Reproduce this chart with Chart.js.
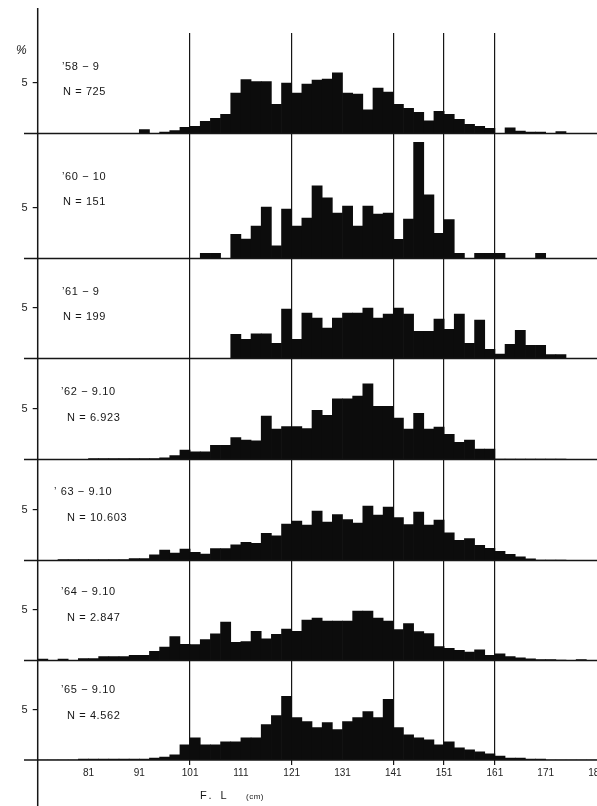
<!DOCTYPE html>
<html>
<head>
<meta charset="utf-8">
<title>F.L frequency by season</title>
<script src="https://cdn.jsdelivr.net/npm/chart.js@4.4.1/dist/chart.umd.min.js"></script>
<style>
  html, body { margin: 0; padding: 0; background: #fff; overflow: hidden; }
  #wrap { position: relative; width: 597px; height: 806px; }
</style>
</head>
<body>
<div id="wrap"><canvas id="fl-chart"></canvas></div>
<script>
/* ─── Data ─────────────────────────────────────── */
// 2 cm fork-length classes, centre values (class 71-73 -> 72 ...)
const binCentres = [72, 74, 76, 78, 80, 82, 84, 86, 88, 90, 92, 94, 96, 98, 100, 102, 104, 106, 108, 110,
  112, 114, 116, 118, 120, 122, 124, 126, 128, 130, 132, 134, 136, 138, 140, 142, 144, 146, 148, 150,
  152, 154, 156, 158, 160, 162, 164, 166, 168, 170, 172, 174, 176, 178, 180];
const xTickValues = [81, 91, 101, 111, 121, 131, 141, 151, 161, 171, 181];
const refLines    = [101, 121, 141, 151, 161];

const seasons     = ['’58 − 9', '’60 − 10', '’61 − 9', '’62 − 9.10', '’ 63 − 9.10', '’64 − 9.10', '’65 − 9.10'];
const sampleSizes = ['N = 725', 'N = 151', 'N = 199', 'N = 6.923', 'N = 10.603', 'N = 2.847', 'N = 4.562'];

// percent per class
const pct58 = [0, 0, 0, 0, 0, 0, 0, 0, 0, 0, 0.4, 0, 0.15, 0.3, 0.6, 0.7, 1.2, 1.5, 1.9, 4.0,
  5.35, 5.15, 5.15, 2.9, 5.0, 4.0, 4.9, 5.3, 5.4, 6.0, 4.0, 3.9, 2.35, 4.5, 4.1, 2.9, 2.5, 2.1, 1.25, 2.2,
  1.9, 1.4, 0.9, 0.7, 0.5, 0, 0.55, 0.25, 0.15, 0.15, 0, 0.2, 0, 0, 0];
const pct60 = [0, 0, 0, 0, 0, 0, 0, 0, 0, 0, 0, 0, 0, 0, 0, 0, 0.5, 0.5, 0, 2.4,
  1.93, 3.2, 5.1, 1.25, 4.9, 3.2, 4.0, 7.2, 6.0, 4.5, 5.2, 3.2, 5.2, 4.4, 4.5, 1.9, 3.9, 11.5, 6.3, 2.5,
  3.85, 0.5, 0, 0.5, 0.5, 0.5, 0, 0, 0, 0.5, 0, 0, 0, 0, 0];
const pct61 = [0, 0, 0, 0, 0, 0, 0, 0, 0, 0, 0, 0, 0, 0, 0, 0, 0, 0, 0, 2.4,
  1.9, 2.45, 2.45, 1.5, 4.9, 1.9, 4.5, 4.0, 3.0, 4.0, 4.5, 4.5, 5.0, 4.0, 4.4, 5.0, 4.4, 2.7, 2.7, 3.9,
  2.9, 4.4, 1.5, 3.8, 0.9, 0.45, 1.4, 2.8, 1.3, 1.3, 0.4, 0.4, 0, 0, 0];
const pct62 = [0, 0, 0, 0, 0, 0.08, 0.08, 0.08, 0.08, 0.08, 0.08, 0.08, 0.17, 0.4, 0.93, 0.77, 0.77, 1.4, 1.4, 2.17,
  1.93, 1.85, 4.3, 3.0, 3.25, 3.25, 3.07, 4.87, 4.37, 6.0, 6.0, 6.27, 7.5, 5.27, 5.27, 4.1, 3.0, 4.57, 3.0, 3.2,
  2.5, 1.7, 1.93, 1.03, 1.03, 0.05, 0.05, 0.05, 0.05, 0.05, 0.05, 0.05, 0, 0, 0];
const pct63 = [0, 0, 0.1, 0.1, 0.1, 0.1, 0.1, 0.1, 0.1, 0.2, 0.2, 0.56, 1.02, 0.73, 1.12, 0.82, 0.63, 1.19, 1.19, 1.55,
  1.81, 1.7, 2.7, 2.45, 3.6, 3.9, 3.5, 4.9, 3.8, 4.55, 4.06, 3.7, 5.4, 4.5, 5.3, 4.25, 3.56, 4.8, 3.5, 4.0,
  2.74, 2.0, 2.18, 1.5, 1.2, 0.92, 0.6, 0.37, 0.17, 0.05, 0.05, 0.05, 0, 0, 0];
const pct64 = [0.15, 0, 0.13, 0, 0.2, 0.2, 0.4, 0.4, 0.4, 0.5, 0.5, 0.9, 1.33, 2.37, 1.6, 1.57, 2.07, 2.63, 3.8, 1.8,
  1.87, 2.9, 2.15, 2.6, 3.1, 2.9, 4.0, 4.2, 3.9, 3.9, 3.9, 4.9, 4.9, 4.2, 3.9, 3.07, 3.66, 2.87, 2.67, 1.38,
  1.2, 1.0, 0.83, 1.06, 0.5, 0.66, 0.4, 0.27, 0.17, 0.1, 0.1, 0.05, 0, 0.1, 0];
const pct65 = [0, 0, 0, 0, 0.1, 0.1, 0.1, 0.1, 0.1, 0.1, 0.1, 0.2, 0.3, 0.5, 1.5, 2.2, 1.5, 1.5, 1.8, 1.8,
  2.2, 2.2, 3.5, 4.4, 6.3, 4.2, 3.8, 3.2, 3.7, 3.0, 3.8, 4.2, 4.8, 4.2, 6.0, 3.2, 2.5, 2.2, 2.0, 1.5,
  1.8, 1.2, 1.0, 0.8, 0.6, 0.4, 0.2, 0.2, 0.1, 0.1, 0, 0, 0, 0, 0];

const panels = [pct58, pct60, pct61, pct62, pct63, pct64, pct65];

/* ─── Layout ───────────────────────────────────── */
const INK = '#161616';
const FONT = "'Liberation Sans', Arial, sans-serif";
const PX_PER_PCT = 10.1;
const panelHeights = [100.5, 125, 100, 101, 101, 100, 99.5];     // px, top to bottom
const labelRise    = [[67, 42], [82, 57], [67, 42], [68, 42], [69, 43], [69, 43], [70, 44]];
const labelLeft    = [[62, 63], [62, 63], [62, 63], [61, 67], [54, 67], [61, 67], [61, 67]];

const panelId = i => 'y' + i;

/* ─── Frame plugin: axis line, baselines, labels ── */
const panelFrame = {
  id: 'panelFrame',
  afterDraw(chart) {
    const { ctx, chartArea } = chart;
    ctx.save();
    ctx.strokeStyle = INK;
    ctx.fillStyle = INK;

    // long left axis
    ctx.lineWidth = 1.5;
    ctx.beginPath();
    ctx.moveTo(chartArea.left, 8);
    ctx.lineTo(chartArea.left, 806);
    ctx.stroke();

    ctx.textBaseline = 'middle';
    ctx.textAlign = 'left';
    panels.forEach((_, i) => {
      const y0 = chart.scales[panelId(i)].getPixelForValue(0);
      ctx.lineWidth = 1.4;
      ctx.beginPath();
      ctx.moveTo(24, y0);
      ctx.lineTo(chart.width, y0);
      ctx.stroke();

      ctx.font = `11px ${FONT}`;
      ctx.letterSpacing = '0.6px';
      ctx.fillText(seasons[i], labelLeft[i][0], y0 - labelRise[i][0]);
      ctx.fillText(sampleSizes[i], labelLeft[i][1], y0 - labelRise[i][1]);
    });

    // unit mark and axis title
    ctx.letterSpacing = '0px';
    ctx.font = `italic 12px ${FONT}`;
    ctx.fillText('%', 16, 51);
    ctx.font = `11px ${FONT}`;
    ctx.letterSpacing = '3px';
    ctx.fillText('F. L', 200, 796);
    ctx.letterSpacing = '0.5px';
    ctx.font = `8px ${FONT}`;
    ctx.fillText('(cm)', 246, 797);
    ctx.restore();
  }
};

/* ─── Scales ───────────────────────────────────── */
const scales = {
  x: {
    type: 'linear',
    min: 71,
    max: 181.1,
    offset: false,
    afterBuildTicks: s => { s.ticks = xTickValues.map(v => ({ value: v })); },
    afterFit: s => { s.height = 46; s.paddingLeft = 0; s.paddingRight = 0; },
    grid: {
      offset: false,
      color: c => (c.tick && refLines.includes(c.tick.value)) ? INK : 'rgba(0,0,0,0)',
      lineWidth: 1.2,
      tickLength: 5,
    },
    border: { display: false },
    ticks: {
      autoSkip: false,
      maxRotation: 0,
      padding: 2,
      color: '#222',
      font: { family: FONT, size: 10 },
      callback: v => String(v),
    },
  },
};
// left stacks are laid out last-key-first, so add the bottom panel first
for (let i = panels.length - 1; i >= 0; i--) {
  scales[panelId(i)] = {
    type: 'linear',
    position: 'left',
    stack: 'seasons',
    stackWeight: panelHeights[i],
    min: 0,
    max: panelHeights[i] / PX_PER_PCT,
    afterBuildTicks: s => { s.ticks = [{ value: 5 }]; },
    afterFit: s => { s.width = 37.7; s.paddingTop = 0; s.paddingBottom = 0; },
    grid: { drawOnChartArea: false, tickLength: 5, color: INK, lineWidth: 1.2 },
    border: { display: false },
    ticks: { padding: 5, color: '#222', font: { family: FONT, size: 11 } },
  };
}

/* ─── Chart ────────────────────────────────────── */
new Chart(document.getElementById('fl-chart'), {
  type: 'bar',
  data: {
    datasets: panels.map((vals, i) => ({
      label: seasons[i],
      yAxisID: panelId(i),
      data: binCentres.map((x, k) => ({ x, y: vals[k] })),
      backgroundColor: '#0c0c0c',
      borderWidth: 0,
      barPercentage: 1,
      categoryPercentage: 1,
      grouped: false,
    })),
  },
  options: {
    responsive: true,
    maintainAspectRatio: false,
    animation: false,
    layout: { padding: { top: 33, left: 0, right: 0, bottom: 0 } },
    plugins: { legend: { display: false }, tooltip: { enabled: false } },
    scales,
  },
  plugins: [panelFrame],
});
</script>
</body>
</html>
